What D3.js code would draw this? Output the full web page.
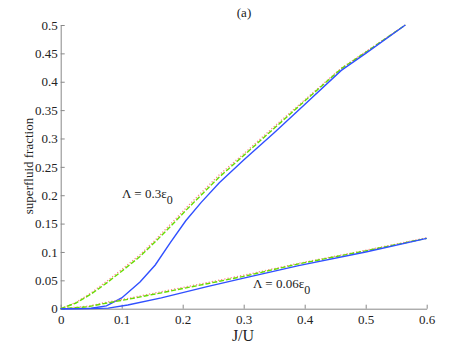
<!DOCTYPE html>
<html><head><meta charset="utf-8">
<script src="https://cdn.jsdelivr.net/npm/d3@7"></script>
<style>body{margin:0;background:#fff}svg{display:block}text{font-family:"Liberation Serif","Times New Roman",serif;fill:#222}</style>
</head><body><svg id="c" width="471" height="348"></svg>
<script>
const xTicks=[0,0.1,0.2,0.3,0.4,0.5,0.6];
const yTicks=[0,0.05,0.1,0.15,0.2,0.25,0.3,0.35,0.4,0.45,0.5];
// Lambda = 0.3 eps0
const upperJ   =[0,0.025,0.05,0.075,0.1,0.13,0.155,0.18,0.205,0.23,0.26,0.3,0.35,0.4,0.46,0.5,0.565];
const upperBlue=[0,0.0001,0.0008,0.005,0.019,0.047,0.077,0.117,0.155,0.187,0.222,0.262,0.31,0.36,0.42,0.45,0.5];
const upperGreen=[0,0.01,0.026,0.045,0.066,0.092,0.118,0.145,0.173,0.2,0.232,0.27,0.318,0.366,0.423,0.452,0.5];
const upperRed =[0,0.011,0.028,0.048,0.069,0.095,0.121,0.149,0.177,0.204,0.236,0.273,0.321,0.368,0.424,0.453,0.5];
// Lambda = 0.06 eps0
const lowerJ   =[0,0.045,0.078,0.11,0.165,0.24,0.3,0.39,0.5,0.6];
const lowerBlue=[0,0.0002,0.001,0.0065,0.019,0.039,0.054,0.076,0.1,0.124];
const lowerGreen=[0,0.0035,0.0105,0.0165,0.028,0.044,0.057,0.079,0.102,0.124];
const lowerRed =[0,0.0045,0.012,0.018,0.030,0.046,0.059,0.080,0.103,0.125];

const svg=d3.select("#c");
const x=d3.scaleLinear().domain([0,0.6]).range([60.7,426.7]);
const y=d3.scaleLinear().domain([0,0.5]).range([308.7,25]);

const ax=svg.append("g").attr("transform","translate(0,308.7)")
  .call(d3.axisBottom(x).tickValues(xTicks).tickFormat(d=>d3.format("")(d)).tickSizeInner(-4).tickSizeOuter(0).tickPadding(6));
const ay=svg.append("g").attr("transform","translate(60.7,0)")
  .call(d3.axisLeft(y).tickValues(yTicks).tickFormat(d=>d3.format("")(+d.toFixed(2))).tickSizeInner(-4).tickSizeOuter(0).tickPadding(3));
[ax,ay].forEach(g=>{g.select(".domain").attr("stroke","#888");g.selectAll(".tick line").attr("stroke","#888");
  g.selectAll("text").attr("font-family","Liberation Serif").attr("font-size",13).attr("fill","#222");});

const line=d3.line().x(d=>x(d[0])).y(d=>y(d[1]));
function draw(J,v,color,dash,w){
  svg.append("path").datum(J.map((j,i)=>[j,v[i]])).attr("d",line).attr("fill","none")
   .attr("stroke",color).attr("stroke-width",w).attr("stroke-dasharray",dash);
}
draw(upperJ,upperRed,"#ff8080","1.2,2",1.3);
draw(upperJ,upperGreen,"#66dd00","5,2",1.4);
draw(upperJ,upperBlue,"#3050ff",null,1.4);
draw(lowerJ,lowerRed,"#ff8080","1.2,2",1.3);
draw(lowerJ,lowerGreen,"#66dd00","5,2",1.4);
draw(lowerJ,lowerBlue,"#3050ff",null,1.4);

svg.append("text").attr("x",244).attr("y",17).attr("text-anchor","middle").attr("font-size",13).text("(a)");
svg.append("text").attr("x",243).attr("y",341).attr("text-anchor","middle").attr("font-size",16).text("J/U");
svg.append("text").attr("transform","translate(33,166) rotate(-90)").attr("text-anchor","middle").attr("font-size",13).text("superfluid fraction");

function lab(xp,yp,txt){
  const t=svg.append("text").attr("x",xp).attr("y",yp).attr("font-size",13);
  t.append("tspan").text(txt);
  t.append("tspan").attr("dy",6).attr("font-size",12).text("0");
}
lab(122,198,"Λ = 0.3ε");
lab(253,288,"Λ = 0.06ε");
</script></body></html>
